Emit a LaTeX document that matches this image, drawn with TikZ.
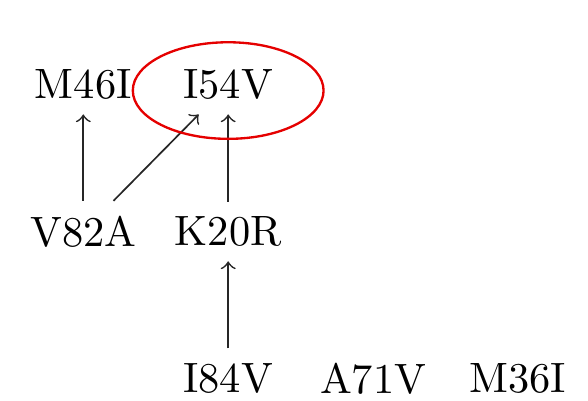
\documentclass[tikz,border=0pt]{standalone}
\usepackage{tikz}
\usetikzlibrary{positioning,arrows}
\tikzset{
  mutation/.style={inner sep=3.33pt},
  depend/.style={->, draw=black!85},
  marked/.style={draw=red!90!black, line width=0.55pt}
}
\begin{document}
\begin{tikzpicture}[node distance=1.217cm and 1.2cm, on grid]
    \useasboundingbox (-0.69,-2.62) rectangle (4.18,0.70);
    \node[mutation] (M46I) {M46I};
    \node[mutation, right=of M46I] (I54V) {I54V};
    \node[mutation, below=of M46I] (V82A) {V82A};
    \node[mutation, below=of I54V] (K20R) {K20R};
    \node[mutation, below=of K20R] (I84V) {I84V};
    \node[mutation, right=of I84V] (A71V) {A71V};
    \node[mutation, right=of A71V] (M36I) {M36I};

    \draw[depend]  (V82A) -- (M46I);
    \draw[depend]  (V82A) -- (I54V);
    \draw[depend]  (K20R) -- (I54V);
    \draw[depend]  (I84V) -- (K20R);

    \draw[marked] ([yshift=-0.05cm]I54V.center) ellipse (0.79cm and 0.4cm);
  \end{tikzpicture}
\end{document}
